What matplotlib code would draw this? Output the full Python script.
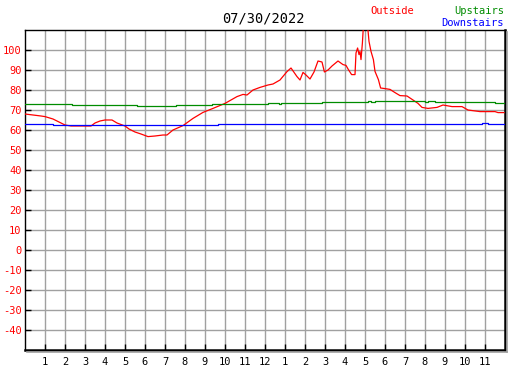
import matplotlib
matplotlib.use("Agg")
import matplotlib.pyplot as plt
from matplotlib.lines import Line2D

# temperature log for one day, time in hours since midnight
title = "07/30/2022"

outside_hr = [0.0, 0.4, 0.8, 1.0, 1.4, 1.7, 2.0, 2.3, 2.6, 3.0, 3.3, 3.5, 3.75,
              4.0, 4.35, 4.6, 5.0, 5.2, 5.5, 5.8, 6.15, 6.5, 6.9, 7.1, 7.4, 7.9,
              8.4, 8.9, 9.4, 10.0, 10.6, 10.9, 11.1, 11.4, 11.75, 12.15, 12.4,
              12.75, 13.1, 13.3, 13.6, 13.75, 13.9, 14.05, 14.25, 14.45, 14.65,
              14.85, 14.97, 15.15, 15.35, 15.65, 15.9, 16.05, 16.17, 16.33,
              16.5, 16.55, 16.63, 16.7, 16.75, 16.8, 16.87, 16.92, 17.0, 17.13,
              17.2, 17.3, 17.42, 17.5, 17.67, 17.78, 18.0, 18.25, 18.5, 18.75,
              19.1, 19.4, 19.65, 19.85, 20.15, 20.6, 20.9, 21.35, 21.85, 22.15,
              22.75, 23.5, 23.65, 23.95]
outside_temp = [68, 67.5, 67, 66.7, 65.5, 64, 62.5, 62, 62, 62, 62, 63.5, 64.5,
                65, 65, 63.5, 62, 60.5, 59, 58, 56.7, 57, 57.5, 57.5, 60, 62.2,
                65.8, 68.8, 70.8, 73.3, 76.7, 77.8, 77.5, 80, 81.3, 82.5, 83,
                85, 89.2, 91, 86.7, 85, 88.8, 87.5, 85.5, 89, 94.5,
                94, 89, 90, 92, 94.5, 92.7, 92.3, 90.2, 87.7,
                87.7, 98.5, 101, 97.7, 99.3, 95.2, 103.5, 112, 114, 112,
                104.3, 99.3, 95.2, 89.3, 85.2, 81, 80.7, 80.3, 78.7, 77.2,
                77, 75, 73.3, 71.3, 70.8, 71.3, 72.5, 71.7, 71.7, 70,
                69.2, 69.2, 68.7, 68.7]

upstairs_hr = [0.0, 2.35, 5.6, 7.55, 9.35, 12.15, 12.7, 12.8, 14.83, 17.15,
               17.3, 17.5, 20.0, 20.15, 20.5, 23.5, 23.95]
upstairs_temp = [73, 72.5, 72, 72.5, 73, 73.5, 73, 73.5, 74, 74.5,
                 74, 74.5, 74, 74.5, 74, 73.5, 73.5]

downstairs_hr = [0.0, 1.4, 9.65, 22.85, 23.15, 23.95]
downstairs_temp = [63, 62.5, 63, 63.5, 63, 63]

hour_ticks = list(range(1, 24))
hour_labels = [str(h if h <= 12 else h - 12) for h in hour_ticks]
temp_ticks = list(range(-40, 101, 10))

mono = "DejaVu Sans Mono"

fig = plt.figure(figsize=(5.27, 3.70), dpi=100)
W, H = 527.0, 370.0
ax = fig.add_axes([25 / W, 20 / H, 480 / W, 320 / H])

ax.plot(outside_hr, outside_temp, color="#ff0000", lw=0.9, zorder=3)
ax.step(upstairs_hr, upstairs_temp, color="#008c00", lw=0.9, where="post", zorder=3)
ax.step(downstairs_hr, downstairs_temp, color="#0000ff", lw=0.9, where="post", zorder=3)

ax.set_xlim(0, 24)
ax.set_ylim(-50, 110)
ax.set_xticks(hour_ticks)
ax.set_xticklabels(hour_labels, fontfamily=mono, fontsize=7.5)
ax.set_yticks(temp_ticks)
ax.set_yticklabels([str(t) for t in temp_ticks], fontfamily=mono, fontsize=7.5, color="#ff0000")
ax.tick_params(axis="both", direction="in", length=4, width=1, color="black")
ax.tick_params(axis="x", pad=5)
ax.tick_params(axis="y", pad=2.5)
ax.grid(True, color="#a0a0a0", lw=1.0, zorder=1)
ax.set_axisbelow(True)

for side in ["left", "top"]:
    ax.spines[side].set_linewidth(1.0)
for side in ["right", "bottom"]:
    ax.spines[side].set_linewidth(1.8)

# grey drop shadow along right and bottom frame
fig.add_artist(Line2D([507 / W, 507 / W], [(370 - 32) / H, (370 - 352) / H],
                      color="#a0a0a0", lw=1.2, transform=fig.transFigure))
fig.add_artist(Line2D([27 / W, 507 / W], [(370 - 352) / H, (370 - 352) / H],
                      color="#a0a0a0", lw=1.2, transform=fig.transFigure))

fig.text(263 / W, 1 - 19 / H, title, ha="center", va="center",
         fontfamily=mono, fontsize=9.8, color="black")
fig.text(414 / W, 1 - 11 / H, "Outside", ha="right", va="center",
         fontfamily=mono, fontsize=7.5, color="#ff0000")
fig.text(504 / W, 1 - 11 / H, "Upstairs", ha="right", va="center",
         fontfamily=mono, fontsize=7.5, color="#008c00")
fig.text(504 / W, 1 - 23 / H, "Downstairs", ha="right", va="center",
         fontfamily=mono, fontsize=7.5, color="#0000ff")

fig.savefig("out.png", dpi=100, facecolor="white")
